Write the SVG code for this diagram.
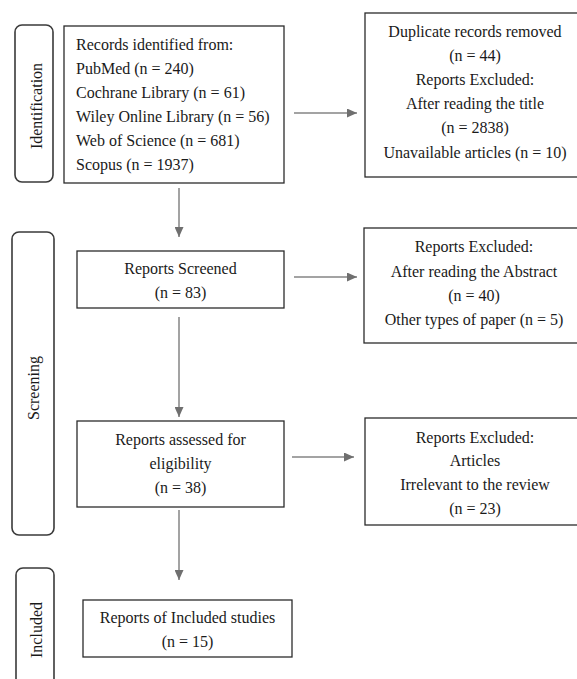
<svg xmlns="http://www.w3.org/2000/svg" width="577" height="679" viewBox="0 0 577 679">
<style>
  .box{fill:#fff;stroke:#2b2b2b;stroke-width:1.3}
  .stage{fill:#fff;stroke:#3a3a3a;stroke-width:1.6}
  .t{font-family:"Liberation Serif","Times New Roman",serif;font-size:16px;fill:#1a1a1a}
  .c{text-anchor:middle}
  .lbl{font-family:"Liberation Serif","Times New Roman",serif;font-size:16px;fill:#1a1a1a;text-anchor:middle}
  .conn{stroke:#858585;stroke-width:1.5;fill:none}
</style>
<defs>
  <marker id="ah" markerUnits="userSpaceOnUse" markerWidth="11" markerHeight="9" refX="10" refY="4.5" orient="auto">
    <path d="M0,0 L10,4.5 L0,9 Z" fill="#6f6f6f"/>
  </marker>
</defs>
<rect width="577" height="679" fill="#fff"/>

<g id="stage-identification">
  <rect class="stage" x="15" y="25" width="38" height="157" rx="7"/>
  <text class="lbl" transform="translate(41.5,106) rotate(-90)">Identification</text>
</g>
<g id="stage-screening">
  <rect class="stage" x="12" y="232" width="42" height="303" rx="7"/>
  <text class="lbl" transform="translate(38.5,388) rotate(-90)">Screening</text>
</g>
<g id="stage-included">
  <rect class="stage" x="16" y="568" width="38" height="130" rx="7"/>
  <text class="lbl" transform="translate(42,630) rotate(-90)">Included</text>
</g>

<g id="node-records">
  <rect class="box" x="64" y="26" width="220" height="157"/>
  <text class="t" x="76" y="50">Records identified from:</text>
  <text class="t" x="76" y="74">PubMed (n = 240)</text>
  <text class="t" x="76" y="98">Cochrane Library (n = 61)</text>
  <text class="t" x="76" y="122">Wiley Online Library (n = 56)</text>
  <text class="t" x="76" y="146">Web of Science (n = 681)</text>
  <text class="t" x="76" y="170">Scopus (n = 1937)</text>
</g>

<g id="node-excluded1">
  <rect class="box" x="365" y="13" width="213" height="164"/>
  <text class="t c" x="475" y="37">Duplicate records removed</text>
  <text class="t c" x="475" y="61">(n = 44)</text>
  <text class="t c" x="475" y="85">Reports Excluded:</text>
  <text class="t c" x="475" y="109">After reading the title</text>
  <text class="t c" x="475" y="133">(n = 2838)</text>
  <text class="t c" x="475" y="158">Unavailable articles (n = 10)</text>
</g>

<g id="node-screened">
  <rect class="box" x="77" y="251" width="207" height="57"/>
  <text class="t c" x="180.5" y="274">Reports Screened</text>
  <text class="t c" x="180.5" y="298">(n = 83)</text>
</g>

<g id="node-excluded2">
  <rect class="box" x="364" y="228" width="214" height="115"/>
  <text class="t c" x="474" y="252">Reports Excluded:</text>
  <text class="t c" x="474" y="277">After reading the Abstract</text>
  <text class="t c" x="474" y="301">(n = 40)</text>
  <text class="t c" x="474" y="325">Other types of paper (n = 5)</text>
</g>

<g id="node-eligibility">
  <rect class="box" x="77" y="421" width="207" height="86"/>
  <text class="t c" x="180.5" y="445">Reports assessed for</text>
  <text class="t c" x="180.5" y="469">eligibility</text>
  <text class="t c" x="180.5" y="493">(n = 38)</text>
</g>

<g id="node-excluded3">
  <rect class="box" x="365" y="418" width="213" height="107"/>
  <text class="t c" x="475" y="443">Reports Excluded:</text>
  <text class="t c" x="475" y="466">Articles</text>
  <text class="t c" x="475" y="490">Irrelevant to the review</text>
  <text class="t c" x="475" y="514">(n = 23)</text>
</g>

<g id="node-included">
  <rect class="box" x="83" y="600" width="209" height="57"/>
  <text class="t c" x="187.5" y="623">Reports of Included studies</text>
  <text class="t c" x="187.5" y="647">(n = 15)</text>
</g>

<g id="connectors">
  <line class="conn" x1="294" y1="113" x2="357" y2="113" marker-end="url(#ah)"/>
  <line class="conn" x1="179" y1="188" x2="179" y2="237" marker-end="url(#ah)"/>
  <line class="conn" x1="294" y1="277" x2="357" y2="277" marker-end="url(#ah)"/>
  <line class="conn" x1="179" y1="317" x2="179" y2="417" marker-end="url(#ah)"/>
  <line class="conn" x1="292" y1="457" x2="354" y2="457" marker-end="url(#ah)"/>
  <line class="conn" x1="179" y1="510" x2="179" y2="580" marker-end="url(#ah)"/>
</g>
</svg>
